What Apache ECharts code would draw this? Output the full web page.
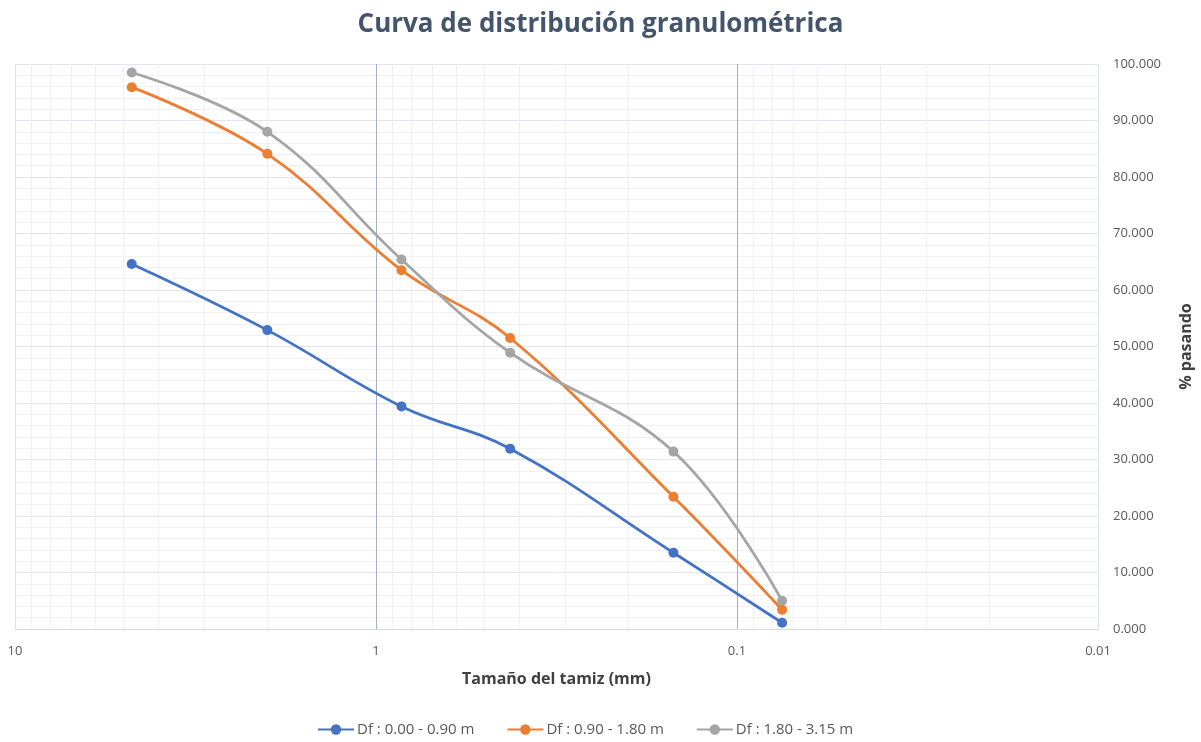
<!DOCTYPE html>
<html>
<head>
<meta charset="utf-8">
<script src="https://cdn.jsdelivr.net/npm/echarts@6/dist/echarts.min.js"></script>
<style>
  html, body { margin: 0; padding: 0; background: #fff; }
  #chart { width: 1201px; height: 742px; }
</style>
</head>
<body>
<div id="chart"></div>
<script>
// Sieve openings (mm) and percent passing for each depth interval
const sieveSizes = [4.75, 2.00, 0.85, 0.425, 0.15, 0.075];
const seriesNames = ['Df : 0.00 - 0.90 m', 'Df : 0.90 - 1.80 m', 'Df : 1.80 - 3.15 m'];
const passing1 = [64.6, 52.9, 39.4, 31.9, 13.5, 1.1];
const passing2 = [95.9, 84.1, 63.5, 51.5, 23.4, 3.4];
const passing3 = [98.5, 88.0, 65.4, 48.9, 31.4, 5.0];
const seriesColors = ['#4472c4', '#ed7d31', '#a5a5a5'];

// Decade gridlines and log minor gridlines (2..9 within each decade)
const majorLines = [1, 0.1];
const minorLines = [];
[1, 0.1, 0.01].forEach(function (base) {
  for (let k = 2; k <= 9; k++) minorLines.push(+(base * k).toPrecision(3));
});
const edgeLines = [10, 0.01];

const chart = echarts.init(document.getElementById('chart'));
const FONT = '"Open Sans", "Liberation Sans", sans-serif';

function curve(name, values, color) {
  return {
    name: name,
    type: 'line',
    smooth: 0.4,
    data: sieveSizes.map(function (s, i) { return [s, values[i]]; }),
    symbol: 'circle',
    symbolSize: 10,
    lineStyle: { width: 2.8, color: color },
    itemStyle: { color: color },
    z: 5
  };
}

function vLines(values, color) {
  return values.map(function (v) {
    return { xAxis: v, lineStyle: { color: color, width: 1, type: 'solid' } };
  });
}

chart.setOption({
  backgroundColor: '#ffffff',
  animation: false,
  textStyle: { fontFamily: FONT },
  title: {
    text: 'Curva de distribución granulométrica',
    left: 'center',
    top: 7,
    textStyle: { fontFamily: FONT, fontSize: 26, fontWeight: 'bold', color: '#44546a' }
  },
  legend: {
    bottom: 0,
    left: 312,
    itemWidth: 36,
    itemHeight: 13,
    itemGap: 32,
    data: seriesNames,
    textStyle: { fontFamily: FONT, fontSize: 15, color: '#595959', padding: [0, 0, 0, -2] }
  },
  grid: { left: 15, right: 103, top: 64, bottom: 113, containLabel: false, outerBoundsMode: 'none' },
  xAxis: {
    type: 'log',
    logBase: 10,
    min: 0.01,
    max: 10,
    inverse: true,
    name: 'Tamaño del tamiz (mm)',
    nameLocation: 'middle',
    nameGap: 42,
    nameTextStyle: { fontFamily: FONT, fontSize: 16, fontWeight: 'bold', color: '#404040' },
    axisLine: { show: true, lineStyle: { color: '#d9d9d9', width: 1 } },
    axisTick: { show: false },
    axisLabel: {
      fontFamily: FONT, fontSize: 13, color: '#595959', margin: 16,
      formatter: function (v) { return String(+v.toPrecision(3)); }
    },
    splitLine: { show: false }
  },
  yAxis: {
    type: 'value',
    position: 'right',
    min: 0,
    max: 100,
    interval: 10,
    name: '% pasando',
    nameLocation: 'middle',
    nameRotate: 90,
    nameGap: 80,
    nameTextStyle: { fontFamily: FONT, fontSize: 16, fontWeight: 'bold', color: '#404040' },
    axisLine: { show: false },
    axisTick: { show: false },
    axisLabel: {
      fontFamily: FONT, fontSize: 13, color: '#595959', margin: 15,
      formatter: function (v) { return v.toFixed(3); }
    },
    splitLine: { show: true, lineStyle: { color: '#e2e6ec', width: 1 } },
    minorTick: { show: false, splitNumber: 5 },
    minorSplitLine: { show: true, lineStyle: { color: '#eff1f4', width: 1 } }
  },
  series: [
    {
      name: 'grid',
      type: 'line',
      data: [],
      silent: true,
      z: 1,
      markLine: {
        silent: true,
        symbol: ['none', 'none'],
        label: { show: false },
        animation: false,
        data: vLines(minorLines, '#eff1f4')
          .concat(vLines(edgeLines, '#dde2ea'))
          .concat(vLines(majorLines, '#9fb0c9'))
      }
    },
    curve(seriesNames[0], passing1, seriesColors[0]),
    curve(seriesNames[1], passing2, seriesColors[1]),
    curve(seriesNames[2], passing3, seriesColors[2])
  ]
});
</script>
</body>
</html>
